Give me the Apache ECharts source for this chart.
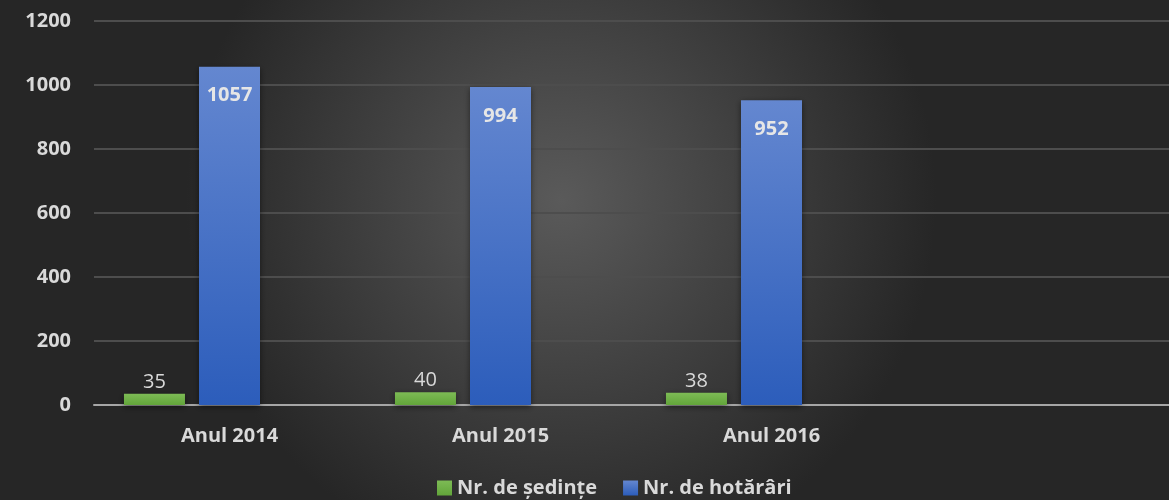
<!DOCTYPE html>
<html>
<head>
<meta charset="utf-8">
<script src="https://cdn.jsdelivr.net/npm/echarts@6/dist/echarts.min.js"></script>
<style>
  html, body { margin: 0; padding: 0; background: #333; }
  #chart { width: 1169px; height: 500px; }
</style>
</head>
<body>
<div id="chart"></div>
<script>
var categories = ['Anul 2014', 'Anul 2015', 'Anul 2016', ''];
var sedinte = [35, 40, 38];
var hotarari = [1057, 994, 952];
var seriesNames = ['Nr. de ședințe', 'Nr. de hotărâri'];
var yTicks = { min: 0, max: 1200, interval: 200 };

var fontFam = '"Open Sans", Lato, sans-serif';

var chart = echarts.init(document.getElementById('chart'));

var option = {
    backgroundColor: {
        type: 'radial', x: 0.48, y: 0.4, r: 0.75,
        colorStops: [
            { offset: 0, color: '#5a5a5a' },
            { offset: 1, color: '#262626' }
        ]
    },
    textStyle: { fontFamily: fontFam },
    animation: false,
    grid: { left: 94, width: 1084, top: 21, bottom: 95, outerBoundsMode: 'none' },
    legend: {
        data: seriesNames,
        top: 478,
        left: 437,
        padding: 0,
        itemWidth: 15,
        itemHeight: 15,
        itemGap: 26,
        icon: 'rect',
        textStyle: { color: '#d9d9d9', fontSize: 20, fontWeight: 'bold', fontFamily: fontFam }
    },
    xAxis: {
        type: 'category',
        data: categories,
        axisLine: { lineStyle: { color: '#a6a6a6', width: 2 } },
        axisTick: { show: false },
        axisLabel: { color: '#d9d9d9', fontSize: 20, fontWeight: 'bold', margin: 21, interval: 0 }
    },
    yAxis: {
        type: 'value',
        min: yTicks.min,
        max: yTicks.max,
        interval: yTicks.interval,
        axisLine: { show: false },
        axisTick: { show: false },
        splitLine: { lineStyle: { color: '#4d4d4d', width: 2 } },
        axisLabel: {
            color: '#d9d9d9', fontSize: 20, fontWeight: 'bold', margin: 23,
            formatter: function (v) { return String(v); }
        }
    },
    series: [
        {
            name: seriesNames[0],
            type: 'bar',
            data: sedinte,
            barWidth: 61,
            barGap: '23%',
            itemStyle: {
                color: new echarts.graphic.LinearGradient(0, 0, 0, 1, [
                    { offset: 0, color: '#7dbb55' },
                    { offset: 1, color: '#62a53a' }
                ]),
                shadowColor: 'rgba(0,0,0,0.5)', shadowBlur: 6, shadowOffsetY: 2
            },
            label: {
                show: true, position: 'top', distance: 2,
                color: '#d9d9d9', fontSize: 20, fontWeight: 'normal'
            }
        },
        {
            name: seriesNames[1],
            type: 'bar',
            data: hotarari,
            barWidth: 61,
            barGap: '23%',
            itemStyle: {
                color: new echarts.graphic.LinearGradient(0, 0, 0, 1, [
                    { offset: 0, color: '#6487d0' },
                    { offset: 1, color: '#2c5dbb' }
                ]),
                shadowColor: 'rgba(0,0,0,0.5)', shadowBlur: 6, shadowOffsetY: 2
            },
            label: {
                show: true, position: 'insideTop', distance: 19,
                color: '#e6e6e6', fontSize: 20, fontWeight: 'bold'
            }
        },
        {
            name: 'gol',
            type: 'bar',
            data: [],
            barWidth: 61,
            barGap: '23%'
        }
    ]
};
chart.setOption(option);
</script>
</body>
</html>
